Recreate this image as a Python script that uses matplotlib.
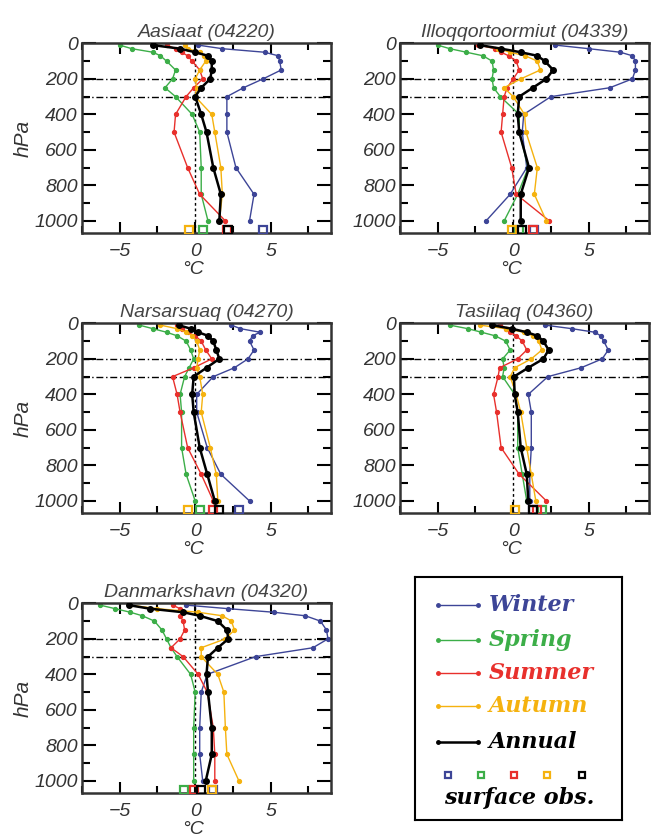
import matplotlib.pyplot as plt
import numpy as np

plt.rcParams['font.family'] = 'Liberation Sans'
plt.rcParams['font.style'] = 'italic'

levels = [10, 30, 50, 70, 100, 150, 200, 250, 300, 400, 500, 700, 850, 1000]
surface_level = 1050
seasons = ['Winter', 'Spring', 'Summer', 'Autumn', 'Annual']
colors = ['#3d4597', '#3cae48', '#e8302c', '#f5b20f', '#000000']

stations = ['Aasiaat (04220)', 'Illoqqortoormiut (04339)', 'Narsarsuaq (04270)',
            'Tasiilaq (04360)', 'Danmarkshavn (04320)']

# temperature trends (°C) at each level, per season
aasiaat_winter = [0.2, 1.8, 4.6, 5.5, 5.6, 5.7, 4.5, 3.2, 2.1, 2.1, 2.1, 2.7, 3.9, 3.6]
aasiaat_spring = [-5.0, -4.2, -2.8, -2.3, -1.9, -1.3, -1.5, -2.0, -1.3, -0.2, 0.3, 0.4, 0.4, 0.85]
aasiaat_summer = [-1.9, -1.3, -0.9, -0.5, -0.2, 0.3, 0.5, -0.1, -0.6, -1.3, -1.4, -0.5, 0.3, 2.0]
aasiaat_autumn = [-0.7, -0.5, 0.3, 0.6, 0.7, 0.3, 0.0, 0.1, 0.0, 1.1, 1.3, 1.7, 1.8, 1.6]
aasiaat_annual = [-2.8, -1.0, 0.0, 0.85, 1.1, 1.1, 1.0, 0.4, 0.0, 0.4, 0.75, 1.2, 1.7, 1.6]
aasiaat_surface = [4.5, 0.5, 2.1, -0.4, 2.2]

illoq_winter = [2.8, 5.0, 7.1, 7.9, 8.1, 8.1, 7.9, 6.4, 2.5, 0.7, 0.6, 0.9, -0.2, -1.8]
illoq_spring = [-5.0, -4.2, -3.1, -2.0, -1.4, -1.3, -1.4, -1.3, -0.85, 0.4, 0.4, 1.0, 0.3, -0.6]
illoq_summer = [-2.3, -1.2, -0.8, -0.3, 0.2, 0.4, 0.0, -0.4, -0.6, -0.7, -0.8, -0.1, 0.2, 2.4]
illoq_autumn = [-2.2, -1.0, -0.2, 0.8, 1.6, 1.8, 0.5, -0.6, 0.0, 0.75, 0.85, 1.6, 1.4, 2.2]
illoq_annual = [-2.2, -0.8, 0.5, 1.6, 2.1, 2.65, 2.2, 1.3, 0.4, 0.3, 0.4, 1.05, 0.5, 0.5]
illoq_surface = [1.4, 0.4, 1.3, -0.1, 0.6]

narsarsuaq_winter = [2.4, 3.0, 4.3, 3.8, 3.6, 3.9, 3.5, 2.6, 1.2, 0.1, 0.1, 0.8, 1.7, 3.6]
narsarsuaq_spring = [-3.7, -2.8, -1.9, -1.2, -0.6, -0.3, -0.1, -0.4, -0.7, -1.0, -0.9, -0.9, -0.6, 0.0]
narsarsuaq_summer = [-1.2, -0.9, -0.5, 0.0, 0.4, 0.7, 1.1, -0.1, -1.5, -1.2, -1.0, -0.5, 0.4, 1.2]
narsarsuaq_autumn = [-2.3, -1.2, -0.6, -0.2, 0.1, 0.3, 0.2, 0.1, 0.3, 0.5, 0.4, 1.0, 1.4, 1.5]
narsarsuaq_annual = [-1.1, -0.3, 0.2, 0.85, 1.2, 1.4, 1.6, 0.75, -0.1, -0.2, -0.1, 0.3, 0.8, 1.3]
narsarsuaq_surface = [2.9, 0.3, 1.2, -0.45, 1.6]

tasiilaq_winter = [2.1, 3.9, 5.4, 5.8, 6.0, 6.3, 5.9, 4.5, 2.3, 1.0, 1.2, 1.2, 1.1, 1.1]
tasiilaq_spring = [-4.2, -3.0, -2.1, -1.2, -0.5, -0.2, -0.7, -0.6, -0.7, 0.1, 0.3, 0.3, 0.6, 0.9]
tasiilaq_summer = [-0.9, -0.5, -0.2, 0.2, 0.6, 0.9, 0.3, -0.9, -1.0, -1.3, -1.1, -0.8, 0.4, 2.2]
tasiilaq_autumn = [-2.2, -0.5, 0.7, 1.3, 1.7, 1.9, 1.2, 0.1, -0.2, 0.2, 0.5, 0.9, 1.2, 1.5]
tasiilaq_annual = [-1.4, -0.1, 0.9, 1.6, 2.0, 2.35, 2.0, 1.0, 0.05, 0.1, 0.3, 0.5, 0.9, 1.0]
tasiilaq_surface = [1.3, 1.9, 1.6, 0.1, 1.3]

danmark_winter = [-0.6, 2.2, 5.2, 7.3, 8.3, 8.7, 8.8, 7.8, 4.0, 0.8, 0.4, 0.3, 0.3, 0.5]
danmark_spring = [-6.3, -5.3, -4.3, -3.5, -2.7, -2.2, -1.9, -1.6, -1.2, -0.3, 0.0, -0.1, -0.1, -0.1]
danmark_summer = [-1.5, -1.0, -0.8, -1.0, -0.8, -0.7, -1.0, -1.6, -0.8, 0.2, 0.8, 1.2, 1.3, 1.3]
danmark_autumn = [-4.3, -2.5, 0.2, 1.8, 2.4, 2.6, 2.0, 0.4, 0.4, 1.5, 1.9, 2.0, 2.1, 2.9]
danmark_annual = [-4.4, -3.0, -0.8, 0.3, 1.5, 2.1, 2.2, 1.5, 0.85, 0.75, 0.85, 1.1, 1.1, 0.7]
danmark_surface = [1.2, -0.75, -0.1, 1.1, 0.4]

profiles = [
    [aasiaat_winter, aasiaat_spring, aasiaat_summer, aasiaat_autumn, aasiaat_annual],
    [illoq_winter, illoq_spring, illoq_summer, illoq_autumn, illoq_annual],
    [narsarsuaq_winter, narsarsuaq_spring, narsarsuaq_summer, narsarsuaq_autumn, narsarsuaq_annual],
    [tasiilaq_winter, tasiilaq_spring, tasiilaq_summer, tasiilaq_autumn, tasiilaq_annual],
    [danmark_winter, danmark_spring, danmark_summer, danmark_autumn, danmark_annual],
]
surfaces = [aasiaat_surface, illoq_surface, narsarsuaq_surface, tasiilaq_surface, danmark_surface]

W, H = 651, 840
fig = plt.figure(figsize=(W / 100, H / 100), dpi=100)

# panel boxes in pixels: left, top
boxes = [(82, 43), (400, 43), (82, 323), (400, 323), (82, 603)]
pw, ph = 249, 190

for k, (left, top) in enumerate(boxes):
    ax = fig.add_axes([left / W, 1 - (top + ph) / H, pw / W, ph / H])
    ax.axhline(200, color='k', lw=1, ls=(0, (5, 2, 1, 2)))
    ax.axhline(300, color='k', lw=1, ls=(0, (5, 2, 1, 2)))
    ax.axvline(0, color='k', lw=1, ls=(0, (2, 2)))
    for s in range(5):
        annual = s == 4
        ax.plot(profiles[k][s], levels, '-o', color=colors[s],
                lw=1.8 if annual else 1.0, ms=4 if annual else 2.8,
                zorder=3 if annual else 2)
        ax.plot(surfaces[k][s], surface_level, 's', mfc='none', mec=colors[s],
                mew=1.6, ms=6, zorder=4)
    ax.set_xlim(-7, 9)
    ax.set_ylim(1068, -2)
    ax.set_xticks([-5, 0, 5])
    ax.set_xticks([-7.5, -2.5, 2.5, 7.5], minor=True)
    ax.set_yticks([0, 200, 400, 600, 800, 1000])
    ax.set_yticks(np.arange(100, 1000, 200), minor=True)
    ax.tick_params(which='both', direction='in', top=True, right=True,
                   labelsize=14, labelcolor='#333333', width=1.5)
    ax.tick_params(axis='y', which='major', length=10, pad=3)
    ax.tick_params(axis='y', which='minor', length=6)
    ax.tick_params(axis='x', which='major', length=8, pad=7)
    ax.tick_params(axis='x', which='minor', length=5)
    for sp in ax.spines.values():
        sp.set_linewidth(1.8)
        sp.set_color('#333333')
    ax.set_title(stations[k], fontsize=14, color='#444444', pad=4)
    ax.set_xlabel('°C', fontsize=14, color='#333333', labelpad=0)
    ax.xaxis.set_label_coords(0.445, -0.145)
    if left < 200:
        ax.set_ylabel('hPa', fontsize=15, color='#333333', labelpad=1)

# legend box
lg = fig.add_axes([415 / W, 1 - 820 / H, 207 / W, 243 / H])
lg.set_xlim(415, 622)
lg.set_ylim(820, 577)
lg.set_xticks([])
lg.set_yticks([])
for sp in lg.spines.values():
    sp.set_linewidth(1.5)
rows = [605, 640, 673, 706, 742]
for s in range(5):
    lg.plot([438, 478], [rows[s], rows[s]], '-o', color=colors[s],
            lw=1.8 if s == 4 else 1.0, ms=2.5, markevery=[0, 1])
    lg.text(489, rows[s], seasons[s], color=colors[s], fontsize=16,
            family='DejaVu Serif', style='italic', weight='bold',
            va='center', ha='left')
sq_x = [448, 481, 514, 547, 582]
for s in range(5):
    lg.plot(sq_x[s], 775, 's', mfc='none', mec=colors[s], mew=1.6, ms=5)
lg.text(519, 798, 'surface obs.', color='k', fontsize=16,
        family='DejaVu Serif', style='italic', weight='bold',
        va='center', ha='center')

fig.savefig('out.png', dpi=100)
